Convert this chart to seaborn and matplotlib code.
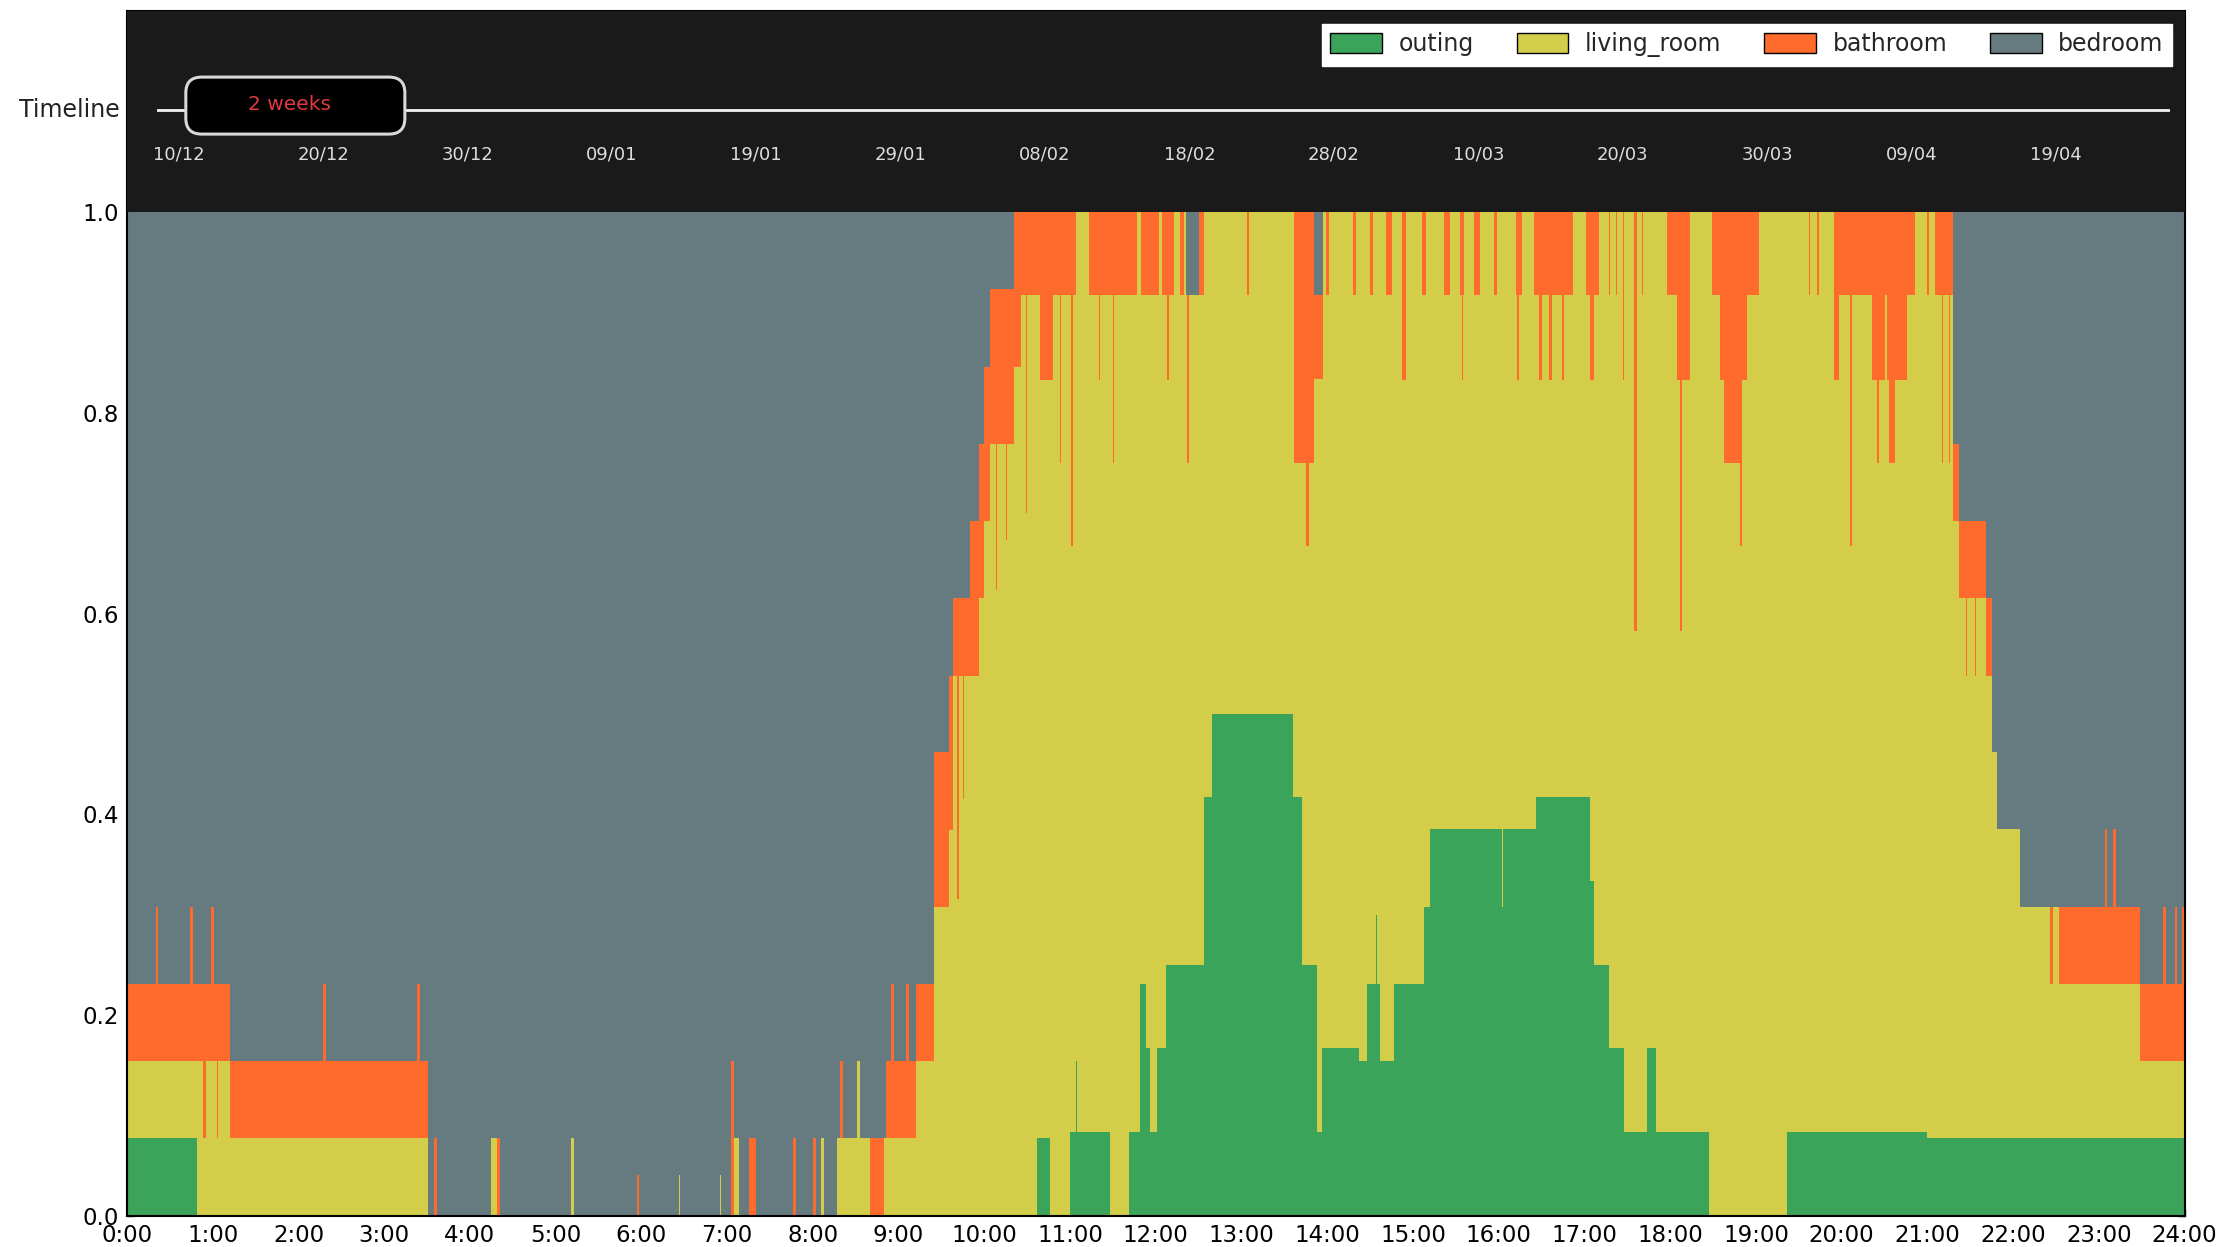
import numpy as np
import pandas as pd
import matplotlib
matplotlib.use("Agg")
import matplotlib.pyplot as plt
import matplotlib.dates as mdates
from matplotlib.patches import Patch, FancyBboxPatch
import seaborn as sns

# rooms, bottom to top of the stack
rooms = ['outing', 'living_room', 'bathroom', 'bedroom']
colors = {'outing': '#3BA35A', 'living_room': '#D3CD4A',
          'bathroom': '#FF6B2C', 'bedroom': '#667B80'}

# share of days in each room, as (time of change, share) steps
outing = [
    ("0:00", .077), ("0:49", 0), ("10:37", .077), ("10:46", 0),
    ("11:00", .083), ("11:04", .154), ("11:05", .083), ("11:28", 0),
    ("11:41", .083), ("11:49", .231), ("11:53", .167), ("11:56", .083),
    ("12:01", .167), ("12:07", .25), ("12:34", .417), ("12:39", .5),
    ("13:36", .417), ("13:42", .25), ("13:53", .083), ("13:56", .167),
    ("14:22", .154), ("14:28", .231), ("14:34", .30), ("14:35", .231),
    ("14:37", .154), ("14:47", .231), ("15:08", .308), ("15:12", .385),
    ("16:02", .308), ("16:03", .385), ("16:26", .417), ("17:04", .333),
    ("17:07", .25), ("17:17", .167), ("17:28", .083), ("17:44", .167),
    ("17:50", .083), ("18:27", 0), ("19:22", .083), ("21:00", .077),
]

bathroom = [
    ("0:00", .077), ("0:20", .154), ("0:22", .077), ("0:44", .154), ("0:46", .077),
    ("0:53", .154), ("0:55", .077), ("0:59", .154), ("1:01", .077), ("1:03", .154),
    ("1:04", .077), ("2:17", .154), ("2:19", .077), ("3:23", .154), ("3:25", .077),
    ("3:31", 0), ("3:35", .077), ("3:37", 0), ("4:19", .077), ("4:21", 0),
    ("5:57", .04), ("5:58", 0), ("7:03", .154), ("7:05", 0), ("7:15", .077),
    ("7:20", 0), ("7:46", .077), ("7:48", 0), ("8:00", .077), ("8:02", 0),
    ("8:19", .077), ("8:21", 0), ("8:40", .077), ("8:50", 0), ("8:51", .077),
    ("8:55", .154), ("8:57", .077), ("9:05", .154), ("9:07", .077),
    ("9:25", .154), ("9:38", .077), ("9:41", .3), ("9:42", .077), ("9:45", .2),
    ("9:46", .077), ("9:50", .154), ("10:08", .3), ("10:09", .154), ("10:15", .25),
    ("10:16", .154), ("10:26", .083), ("10:29", .3), ("10:30", .083), ("10:39", .167),
    ("10:48", .083), ("10:53", .25), ("10:54", .083), ("11:01", .333), ("11:02", .083),
    ("11:04", 0), ("11:13", .083), ("11:20", .167), ("11:21", .083), ("11:30", .25),
    ("11:31", .083), ("11:47", 0), ("11:50", .083), ("12:02", 0), ("12:04", .083),
    ("12:08", .167), ("12:09", .083), ("12:13", 0), ("12:17", .083), ("12:20", 0),
    ("12:22", .167), ("12:23", 0), ("12:30", .083), ("12:34", 0), ("13:04", .083),
    ("13:05", 0), ("13:37", .25), ("13:45", .333), ("13:47", .25), ("13:51", .083),
    ("13:57", 0), ("13:59", .083), ("14:01", 0), ("14:18", .083), ("14:20", 0),
    ("14:30", .083), ("14:32", 0), ("14:41", .083), ("14:45", 0), ("14:52", .167),
    ("14:55", 0), ("15:06", .083), ("15:09", 0), ("15:22", .083), ("15:26", 0),
    ("15:33", .083), ("15:34", .167), ("15:35", .083), ("15:36", 0), ("15:43", .083),
    ("15:47", 0), ("15:57", .083), ("15:59", 0), ("16:12", .083), ("16:13", .167),
    ("16:14", .083), ("16:16", 0), ("16:25", .083), ("16:28", .167), ("16:30", .083),
    ("16:35", .167), ("16:37", .083), ("16:44", .167), ("16:46", .083), ("16:52", 0),
    ("17:01", .083), ("17:04", .167), ("17:07", .083), ("17:10", 0), ("17:17", .083),
    ("17:18", 0), ("17:22", .083), ("17:23", 0), ("17:27", .167), ("17:28", 0),
    ("17:35", .417), ("17:37", 0), ("17:40", .083), ("17:41", 0), ("17:58", .083),
    ("18:05", .167), ("18:07", .417), ("18:08", .167), ("18:14", 0), ("18:29", .083),
    ("18:35", .167), ("18:38", .25), ("18:49", .333), ("18:50", .167), ("18:54", .083),
    ("19:02", 0), ("19:37", .083), ("19:38", 0), ("19:43", .083), ("19:44", 0),
    ("19:55", .167), ("19:58", .083), ("20:06", .333), ("20:07", .083), ("20:21", .167),
    ("20:25", .25), ("20:26", .167), ("20:30", .083), ("20:32", .167), ("20:33", .25),
    ("20:37", .167), ("20:46", .083), ("20:51", 0), ("21:00", .083), ("21:01", 0),
    ("21:05", .083), ("21:10", .25), ("21:11", .083), ("21:15", .25), ("21:16", .083),
    ("21:18", .077), ("21:27", .154), ("21:28", .077), ("21:33", .154), ("21:34", .077),
    ("21:45", 0), ("22:26", .077), ("22:28", 0), ("22:32", .077), ("23:04", .154),
    ("23:06", .077), ("23:10", .154), ("23:12", .077), ("23:45", .154), ("23:47", .077),
    ("23:53", .154), ("23:55", .077), ("23:58", .154),
]

bedroom = [
    ("0:00", .769), ("0:20", .692), ("0:22", .769), ("0:44", .692), ("0:46", .769),
    ("0:59", .692), ("1:01", .769), ("1:12", .846), ("2:17", .769), ("2:19", .846),
    ("3:23", .769), ("3:25", .846), ("3:31", 1.0), ("3:35", .923), ("3:37", 1.0),
    ("4:15", .923), ("4:21", 1.0), ("5:11", .923), ("5:13", 1.0), ("5:57", .96),
    ("5:58", 1.0), ("6:26", .96), ("6:27", 1.0), ("6:55", .96), ("6:56", 1.0),
    ("7:03", .846), ("7:05", .923), ("7:08", 1.0), ("7:15", .923), ("7:20", 1.0),
    ("7:46", .923), ("7:48", 1.0), ("8:00", .923), ("8:02", 1.0), ("8:06", .923),
    ("8:08", 1.0), ("8:17", .923), ("8:19", .846), ("8:21", .923), ("8:31", .846),
    ("8:33", .923), ("8:51", .846), ("8:55", .769), ("8:57", .846), ("9:05", .769),
    ("9:07", .846), ("9:12", .769), ("9:25", .538), ("9:35", .462), ("9:38", .385),
    ("9:50", .308), ("9:56", .231), ("10:00", .154), ("10:04", .077), ("10:21", 0),
    ("12:21", .083), ("12:30", 0), ("13:51", .083), ("13:57", 0),
    ("21:18", .231), ("21:22", .308), ("21:41", .385), ("21:45", .538), ("21:49", .615),
    ("22:05", .692), ("23:04", .615), ("23:06", .692), ("23:10", .615), ("23:12", .692),
    ("23:29", .769), ("23:45", .692), ("23:47", .769), ("23:53", .692), ("23:55", .769),
    ("23:58", .692),
]

hour_ticks = list(range(25))
hour_labels = [f"{h}:00" for h in hour_ticks]
y_ticks = [0.0, 0.2, 0.4, 0.6, 0.8, 1.0]

# timeline slider above the plot
timeline_dates = pd.date_range('2016-12-10', periods=14, freq='10D')
timeline_span = ('2016-12-08 12:00', '2017-04-26 22:00')
window_span = ('2016-12-10 12:00', '2016-12-25 16:00')
window_label = '2 weeks'


def to_hours(s):
    h, m = s.split(':')
    return int(h) + int(m) / 60


series = {'outing': outing, 'bathroom': bathroom, 'bedroom': bedroom}
edges = np.array(sorted({to_hours(t) for s in series.values() for t, _ in s} | {24.0}))
left = edges[:-1]


def step_values(pairs):
    t = np.array([to_hours(a) for a, _ in pairs])
    v = np.array([b for _, b in pairs], dtype=float)
    return v[np.searchsorted(t, left, side='right') - 1]


shares = {k: step_values(v) for k, v in series.items()}
# whoever is not out, in the bathroom or in the bedroom is in the living room
shares['living_room'] = np.clip(1 - shares['outing'] - shares['bathroom'] - shares['bedroom'], 0, None)

mid = (edges[:-1] + edges[1:]) / 2
df = pd.concat([pd.DataFrame({'hour': mid, 'room': r, 'share': shares[r]}) for r in rooms],
               ignore_index=True)

sns.set_style('ticks', {'xtick.direction': 'in', 'ytick.direction': 'in',
                        'axes.edgecolor': 'black'})
plt.rcParams['font.family'] = ['DejaVu Sans']

fig = plt.figure(figsize=(22.36, 12.47), dpi=100)
ax = fig.add_axes([0.0568, 0.0252, 0.9202, 0.9656])

sns.histplot(data=df, x='hour', hue='room', weights='share', bins=edges.tolist(),
             multiple='fill', element='step', hue_order=rooms[::-1],
             palette=colors, alpha=1, linewidth=0, antialiased=False,
             legend=False, ax=ax)

ax.axhspan(1.0, 1.2, color='#1a1a1a', lw=0, zorder=3)
ax.set_xlim(0, 24)
ax.set_ylim(0, 1.2)
ax.set_xticks(hour_ticks)
ax.set_xticklabels(hour_labels)
ax.set_yticks(y_ticks)
ax.set_yticklabels([f"{v:.1f}" for v in y_ticks])
ax.set_xlabel('')
ax.set_ylabel('')
ax.tick_params(axis='both', direction='in', labelsize=16.5, length=5, width=1,
               colors='black', top=False, right=True)
ax.tick_params(axis='x', pad=6)
ax.tick_params(axis='y', pad=6)
for sp in ax.spines.values():
    sp.set_visible(True)
    sp.set_color('black')
    sp.set_linewidth(1.5)

handles = [Patch(facecolor=colors[r], edgecolor='black', label=r) for r in rooms]
leg = ax.legend(handles=handles, ncol=4, loc='upper right', bbox_to_anchor=(0.9938, 0.9896),
                borderaxespad=0, fontsize=17, frameon=True, fancybox=False, framealpha=1,
                edgecolor='white', handlelength=2.2, handleheight=0.9, handletextpad=0.7,
                columnspacing=1.8, borderpad=0.35)
leg.set_zorder(10)

# timeline strip
ax_t = ax.inset_axes([0.01455, 1.0 / 1.2, 0.9931 - 0.01455, 0.2 / 1.2])
t0, t1 = [mdates.date2num(pd.Timestamp(d)) for d in timeline_span]
ax_t.set_xlim(t0, t1)
ax_t.set_ylim(0, 1)
ax_t.axis('off')
ax_t.axhline(0.509, color='#f2f2f2', lw=2)
for d in timeline_dates:
    ax_t.text(mdates.date2num(d), 0.289, d.strftime('%d/%m'), color='#dddddd',
              fontsize=13, ha='center', va='center')
w0, w1 = [mdates.date2num(pd.Timestamp(d)) for d in window_span]
box = FancyBboxPatch((w0, 0.389), w1 - w0, 0.284,
                     boxstyle='round,pad=0,rounding_size=1.1', mutation_aspect=0.0714,
                     facecolor='black', edgecolor='#d8d8d8', lw=2.2, zorder=5)
ax_t.add_patch(box)
ax_t.text((w0 + w1) / 2 - 0.4, 0.538, window_label, color='#e0393e', fontsize=14.5,
          ha='center', va='center', zorder=6)
ax_t.text(-0.0184, 0.509, 'Timeline', transform=ax_t.transAxes, ha='right', va='center',
          fontsize=17, color='#222222')

fig.savefig('out.png', dpi=100)
